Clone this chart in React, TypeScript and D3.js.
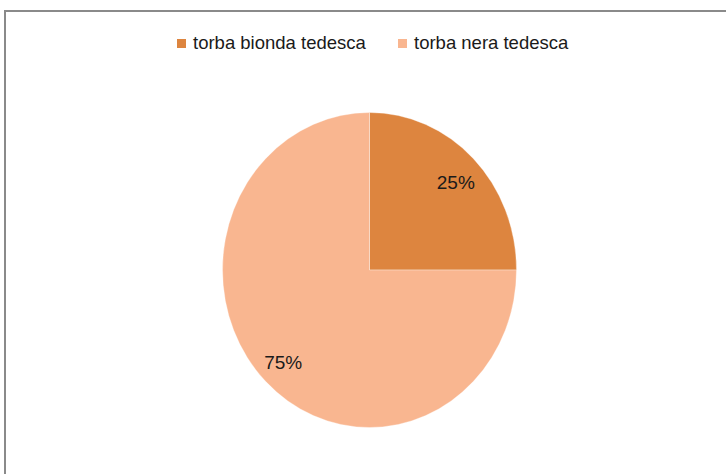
import { useEffect, useRef } from "react";
import * as d3 from "d3";

const categories = ["torba bionda tedesca", "torba nera tedesca"];
const values = [25, 75];
const colors = ["#DD853F", "#F9B690"];

export default function App() {
  const svgRef = useRef<SVGSVGElement>(null);

  useEffect(() => {
    const svg = svgRef.current;
    if (!svg) return;
    d3.select(svg).selectAll("*").remove();

    const width = 726;
    const height = 474;
    const cx = 369.5;
    const cy = 270;
    const rx = 147;
    const ry = 157.5;

    const root = d3.select(svg).attr("width", width).attr("height", height);

    // chart frame (only top and left edges visible in the crop)
    root
      .append("path")
      .attr("d", `M5,${height} V11 H${width}`)
      .attr("fill", "none")
      .attr("stroke", "#8a8a8a")
      .attr("stroke-width", 2);

    const data = categories.map((c, i) => ({ name: c, value: values[i], color: colors[i] }));
    const pie = d3
      .pie<{ name: string; value: number; color: string }>()
      .value((d) => d.value)
      .sort(null);
    const arcs = pie(data);

    const arc = d3
      .arc<d3.PieArcDatum<{ name: string; value: number; color: string }>>()
      .innerRadius(0)
      .outerRadius(rx);

    // pie is slightly stretched vertically in the reference
    const g = root
      .append("g")
      .attr("transform", `translate(${cx},${cy}) scale(1,${ry / rx})`);

    g.selectAll("path")
      .data(arcs)
      .enter()
      .append("path")
      .attr("d", arc)
      .attr("fill", (d) => d.data.color)
      .attr("stroke", "#fff")
      .attr("stroke-opacity", 0.4)
      .attr("stroke-width", 0.8);

    const labelArc = d3
      .arc<d3.PieArcDatum<{ name: string; value: number; color: string }>>()
      .innerRadius(rx * 0.83)
      .outerRadius(rx * 0.83);

    const total = d3.sum(values);
    root
      .append("g")
      .selectAll("text")
      .data(arcs)
      .enter()
      .append("text")
      .attr("x", (d) => cx + labelArc.centroid(d)[0])
      .attr("y", (d) => cy + labelArc.centroid(d)[1] * 0.97 * (ry / rx) + 2)
      .attr("dy", "0.36em")
      .attr("text-anchor", "middle")
      .attr("font-family", "'Liberation Sans', Arial, sans-serif")
      .attr("font-size", 19)
      .attr("fill", "#1a1a1a")
      .text((d) => `${Math.round((d.data.value / total) * 100)}%`);

    // legend
    const legendX = [177, 398];
    const legend = root.append("g");
    data.forEach((d, i) => {
      legend
        .append("rect")
        .attr("x", legendX[i])
        .attr("y", 39)
        .attr("width", 9)
        .attr("height", 9)
        .attr("fill", d.color);
      legend
        .append("text")
        .attr("x", legendX[i] + 16)
        .attr("y", 49)
        .attr("font-family", "'Liberation Sans', Arial, sans-serif")
        .attr("font-size", 18.5)
        .attr("fill", "#1a1a1a")
        .text(d.name);
    });
  }, []);

  return (
    <svg
      ref={svgRef}
      style={{ position: "absolute", left: 0, top: 0, display: "block", background: "#fff" }}
    />
  );
}
